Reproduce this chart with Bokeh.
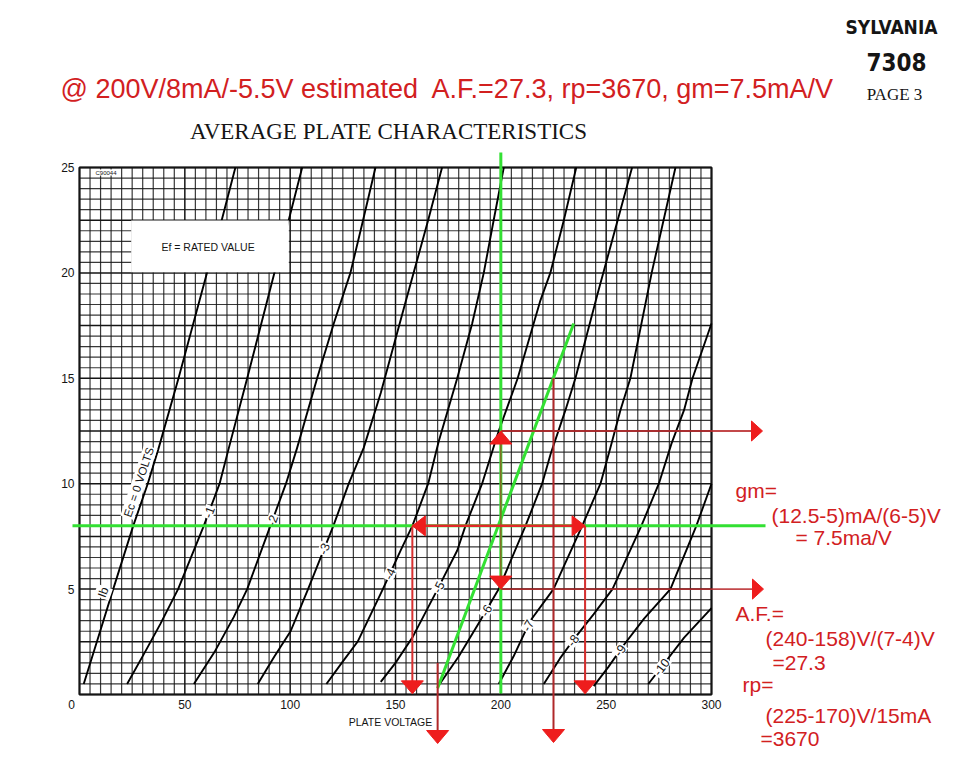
import numpy as np
from bokeh.plotting import figure
from bokeh.models import Range1d
from bokeh.core.properties import value
from bokeh.embed import file_html
from bokeh.resources import INLINE

# ---------------- data (plate volts, plate mA) ----------------
bias_labels = ["-1", "-2", "-3", "-4", "-5", "-6", "-7", "-8", "-9", "-10"]

ec0_v = [2.0, 9.8, 16.0, 25.5, 32.4, 37.6, 47.0, 60.5, 67.5, 74.0]
ec0_i = [0.5, 3.0, 5.0, 8.0, 10.0, 11.7, 15.0, 20.0, 22.5, 25.0]
ec1_v = [22.6, 31.0, 38.4, 46.8, 59.0, 66.5, 70.9, 79.6, 92.5, 99.3, 105.7]
ec1_i = [0.5, 2.0, 3.35, 5.0, 8.0, 10.0, 11.7, 15.0, 20.0, 22.5, 25.0]
ec2_v = [54.3, 64.0, 73.2, 79.6, 90.6, 98.0, 103.3, 112.8, 120.7, 128.6, 134.6, 140.5]
ec2_i = [0.5, 2.0, 3.67, 5.0, 8.0, 10.0, 11.7, 15.0, 17.6, 20.0, 22.5, 25.0]
ec3_v = [84.6, 92.5, 100.2, 108.5, 120.5, 127.8, 134.9, 143.0, 155.0, 165.5, 172.1]
ec3_i = [0.5, 1.8, 3.0, 5.0, 8.0, 10.0, 11.7, 14.3, 18.7, 22.5, 25.0]
ec4_v = [117.2, 124.5, 132.0, 144.0, 152.4, 158.0, 165.5, 170.5, 179.3, 186.4, 191.9, 196.6, 201.4]
ec4_i = [0.5, 1.5, 2.5, 5.0, 6.83, 8.0, 10.0, 12.0, 15.0, 17.6, 20.0, 22.5, 25.0]
ec5_v = [143.0, 150.0, 158.0, 170.0, 179.3, 183.2, 191.1, 197.4, 199.0, 208.0, 218.8, 223.5, 229.9, 235.8]
ec5_i = [0.6, 1.5, 2.7, 5.0, 6.83, 8.0, 10.0, 12.0, 12.5, 15.0, 18.7, 20.0, 22.5, 25.0]
ec6_v = [171.0, 180.0, 189.0, 199.0, 211.7, 219.6, 223.6, 230.7, 235.4, 245.9, 262.3]
ec6_i = [0.5, 1.8, 3.3, 5.0, 8.0, 10.0, 11.4, 13.5, 15.0, 19.0, 25.0]
ec7_v = [199.0, 206.0, 214.0, 225.0, 238.6, 247.3, 252.0, 256.8, 261.5, 271.6, 282.9]
ec7_i = [0.5, 1.8, 3.5, 5.0, 8.0, 10.0, 11.7, 13.5, 15.0, 20.0, 25.0]
ec8_v = [220.4, 228.0, 234.5, 244.0, 253.0, 266.7, 275.0, 281.0, 287.0, 291.0, 300.0]
ec8_i = [0.5, 1.7, 2.6, 3.8, 5.0, 8.0, 10.0, 11.9, 13.5, 15.0, 17.6]
ec9_v = [244.1, 251.0, 258.0, 268.0, 280.5, 292.8, 300.0]
ec9_i = [0.4, 1.3, 2.3, 3.6, 5.0, 8.0, 10.0]
ec10_v = [270.0, 277.0, 287.0, 300.0]
ec10_i = [0.5, 1.4, 2.7, 4.1]

x_ticks = [0, 50, 100, 150, 200, 250, 300]
x_tick_labels = ["0", "50", "100", "150", "200", "250", "300"]
y_ticks = [5, 10, 15, 20, 25]
y_tick_labels = ["5", "10", "15", "20", "25"]

# construction values of the annotation
op_v, op_i = 200.0, 8.0
gm_i_hi, gm_i_lo = 12.5, 5.0
af_v_lo, af_v_hi = 158.0, 240.0
rp_v_lo, rp_v_hi, rp_i = 170.0, 225.0, 15.0
tangent_v = [170.0, 234.6]
tangent_i = [0.3, 17.6]
label_i = [8.65, 8.25, 6.91, 5.72, 5.09, 3.98, 3.27, 2.56, 2.09, 1.3]

curves = [(ec0_v, ec0_i), (ec1_v, ec1_i), (ec2_v, ec2_i), (ec3_v, ec3_i),
          (ec4_v, ec4_i), (ec5_v, ec5_i), (ec6_v, ec6_i), (ec7_v, ec7_i),
          (ec8_v, ec8_i), (ec9_v, ec9_i), (ec10_v, ec10_i)]

# ---------------- layout ----------------
W, H = 968, 757
X0_PX, X300_PX = 79.0, 711.0
Y0_PX, Y25_PX = 694.0, 167.0
SX = (X300_PX - X0_PX) / 300.0
SY = (Y0_PX - Y25_PX) / 25.0


def v_of(px):
    return (px - X0_PX) / SX


def i_of(py):
    return (Y0_PX - py) / SY


p = figure(width=W, height=H, x_range=Range1d(v_of(0), v_of(W)),
           y_range=Range1d(i_of(H), i_of(0)), x_axis_type=None, y_axis_type=None,
           toolbar_location=None, output_backend="svg", min_border=0,
           outline_line_color=None, background_fill_color="white",
           border_fill_color="white")

SANS = value("Liberation Sans")
SERIF = value("Liberation Serif")
RED_TXT = "#d2201f"
RED_HEAD = "#ee1d1d"
GREEN = "#33e033"
INK = "#151515"

# ---- graph paper ----
gv = np.arange(0, 301, 5)
gi = np.arange(0, 25.01, 0.5)
minor_v = [v for v in gv if v % 50 != 0]
major_v = [v for v in gv if v % 50 == 0]
minor_i = [i for i in gi if abs(i / 2.5 - round(i / 2.5)) > 1e-6]
major_i = [i for i in gi if abs(i / 2.5 - round(i / 2.5)) < 1e-6]
p.segment(x0=minor_v, y0=[0] * len(minor_v), x1=minor_v, y1=[25] * len(minor_v),
          line_color=INK, line_width=1.2, line_alpha=0.85)
p.segment(x0=[0] * len(minor_i), y0=minor_i, x1=[300] * len(minor_i), y1=minor_i,
          line_color=INK, line_width=1.2, line_alpha=0.85)
p.segment(x0=major_v, y0=[0] * len(major_v), x1=major_v, y1=[25] * len(major_v),
          line_color=INK, line_width=1.5)
p.segment(x0=[0] * len(major_i), y0=major_i, x1=[300] * len(major_i), y1=major_i,
          line_color=INK, line_width=1.5)
p.quad(left=[0], right=[300], bottom=[0], top=[25], fill_color=None,
       line_color=INK, line_width=2)

# ---- characteristic curves ----
for cv, ci in curves:
    p.line(cv, ci, line_color="#000000", line_width=1.9, line_join="round")

# ---- note box ----
p.quad(left=[v_of(130.7)], right=[v_of(288.3)], bottom=[i_of(271.7)], top=[i_of(220)],
       fill_color="white", line_color=None)
p.text(x=[v_of(209)], y=[i_of(246)], text=["Ef = RATED  VALUE"], text_font=SANS,
       text_font_size="10.5px", text_color=INK, text_align="center", text_baseline="middle")
p.text(x=[v_of(95)], y=[i_of(172)], text=["C90044"], text_font=SANS,
       text_font_size="6px", text_color=INK, text_align="left", text_baseline="middle",
       background_fill_color="white")

# ---- curve labels along curves ----
lab_v, lab_a = [], []
for (cv, ci), li in zip(curves[1:], label_i):
    v_here = float(np.interp(li, ci, cv))
    v1 = float(np.interp(li - 0.6, ci, cv))
    v2 = float(np.interp(li + 0.6, ci, cv))
    lab_v.append(v_here)
    lab_a.append(float(np.arctan2(1.2 * SY, (v2 - v1) * SX)))
p.text(x=lab_v, y=label_i, text=bias_labels, angle=lab_a, text_font=SANS,
       text_font_size="12.5px", text_color=INK, text_align="center", text_baseline="middle",
       background_fill_color="white", padding=1)
p.text(x=[28.2], y=[10.07], text=["Ec = 0 VOLTS"], angle=[np.deg2rad(71.5)], text_font=SANS,
       text_font_size="11.5px", text_color=INK, text_align="center", text_baseline="middle",
       background_fill_color="white", padding=1)
p.text(x=[11.3], y=[4.85], text=["Ib"], angle=[np.deg2rad(70)], text_font=SANS,
       text_font_size="12px", text_color=INK, text_align="center", text_baseline="middle",
       background_fill_color="white", padding=1)

# ---- tick labels ----
x_off = [-8 if t == 0 else 0 for t in x_ticks]
p.text(x=x_ticks, y=[i_of(704)] * len(x_ticks), text=x_tick_labels, x_offset=x_off,
       text_font=SANS, text_font_size="12px", text_color=INK, text_align="center",
       text_baseline="middle")
p.text(x=[v_of(74)] * len(y_ticks), y=y_ticks, text=y_tick_labels, text_font=SANS,
       text_font_size="12px", text_color=INK, text_align="right", text_baseline="middle")
p.text(x=[v_of(390)], y=[i_of(721)], text=["PLATE VOLTAGE"], text_font=SANS,
       text_font_size="10.5px", text_color=INK, text_align="center", text_baseline="middle")

# ---- headers ----
p.text(x=[v_of(388)], y=[i_of(131)], text=["AVERAGE PLATE CHARACTERISTICS"], text_font=SERIF,
       text_font_size="23px", text_color=INK, text_align="center", text_baseline="middle")
p.text(x=[v_of(891)], y=[i_of(26)], text=["SYLVANIA"], text_font=value("DejaVu Sans Condensed"),
       text_font_size="19px", text_font_style="bold", text_color=INK, text_align="center",
       text_baseline="middle")
p.text(x=[v_of(896)], y=[i_of(61)], text=["7308"], text_font=value("DejaVu Sans Condensed"),
       text_font_size="24px", text_font_style="bold", text_color=INK, text_align="center",
       text_baseline="middle")
p.text(x=[v_of(894)], y=[i_of(94)], text=["PAGE 3"], text_font=SERIF,
       text_font_size="17px", text_color=INK, text_align="center", text_baseline="middle")
p.text(x=[v_of(60)], y=[i_of(88)],
       text=["@ 200V/8mA/-5.5V estimated\u00a0 A.F.=27.3, rp=3670, gm=7.5mA/V"],
       text_font=SANS, text_font_size="27px", text_color=RED_TXT, text_align="left",
       text_baseline="middle")

# ---- green construction lines ----
p.line([v_of(72), v_of(765)], [op_i, op_i], line_color=GREEN, line_width=3)
p.line([op_v, op_v], [0.05, i_of(152)], line_color=GREEN, line_width=3)
p.line(tangent_v, tangent_i, line_color=GREEN, line_width=3)

# ---- red construction lines ----
right_end = v_of(752)
p.segment(x0=[op_v, op_v], y0=[gm_i_hi, gm_i_lo], x1=[right_end, right_end], y1=[gm_i_hi, gm_i_lo],
          line_color="#b8282a", line_width=1.8, line_alpha=0.85)
p.segment(x0=[op_v, op_v], y0=[op_i, op_i], x1=[op_v, op_v], y1=[gm_i_hi, gm_i_lo],
          line_color="#b03020", line_width=1.5, line_alpha=0.7)
p.segment(x0=[af_v_lo, op_v], y0=[op_i, op_i], x1=[op_v, af_v_hi], y1=[op_i, op_i],
          line_color="#e02828", line_width=2.5)
p.segment(x0=[af_v_lo, af_v_hi], y0=[op_i, op_i], x1=[af_v_lo, af_v_hi], y1=[0.6, 0.6],
          line_color="#d83030", line_width=2)
p.segment(x0=[rp_v_lo, rp_v_hi], y0=[1.5, rp_i], x1=[rp_v_lo, rp_v_hi], y1=[i_of(730), i_of(730)],
          line_color="#b0282a", line_width=2)


def head(tip_v, tip_i, direction, length_px, width_px):
    hl_v, hl_i = length_px / SX, length_px / SY
    hw_v, hw_i = width_px / 2 / SX, width_px / 2 / SY
    if direction == "up":
        return [tip_v, tip_v - hw_v, tip_v + hw_v], [tip_i, tip_i - hl_i, tip_i - hl_i]
    if direction == "down":
        return [tip_v, tip_v - hw_v, tip_v + hw_v], [tip_i, tip_i + hl_i, tip_i + hl_i]
    if direction == "left":
        return [tip_v, tip_v + hl_v, tip_v + hl_v], [tip_i, tip_i - hw_i, tip_i + hw_i]
    return [tip_v, tip_v - hl_v, tip_v - hl_v], [tip_i, tip_i - hw_i, tip_i + hw_i]


heads = [
    head(op_v, gm_i_hi, "up", 13, 22),
    head(op_v, gm_i_lo, "down", 13, 22),
    head(af_v_lo, op_i, "left", 13, 20),
    head(af_v_hi, op_i, "right", 13, 20),
    head(af_v_lo, 0.03, "down", 13, 22),
    head(af_v_hi, 0.03, "down", 13, 22),
    head(rp_v_lo, i_of(743), "down", 13, 22),
    head(rp_v_hi, i_of(742), "down", 13, 22),
    head(v_of(762), gm_i_hi, "right", 11, 20),
    head(v_of(763), gm_i_lo, "right", 11, 20),
]
p.patches(xs=[h[0] for h in heads], ys=[h[1] for h in heads], fill_color=RED_HEAD,
          line_color=RED_HEAD, line_width=1)

# ---- right-hand red notes ----
notes = [
    ("gm=", 735, 490),
    ("(12.5-5)mA/(6-5)V", 771, 515),
    ("= 7.5ma/V", 795, 537),
    ("A.F.=", 735, 613),
    ("(240-158)V/(7-4)V", 765, 638),
    ("=27.3", 772, 662),
    ("rp=", 742, 684),
    ("(225-170)V/15mA", 765, 715),
    ("=3670", 760, 738),
]
p.text(x=[v_of(n[1]) for n in notes], y=[i_of(n[2]) for n in notes], text=[n[0] for n in notes],
       text_font=SANS, text_font_size="21px", text_color=RED_TXT, text_align="left",
       text_baseline="middle")

open("out.html", "w").write(file_html(p, INLINE))
